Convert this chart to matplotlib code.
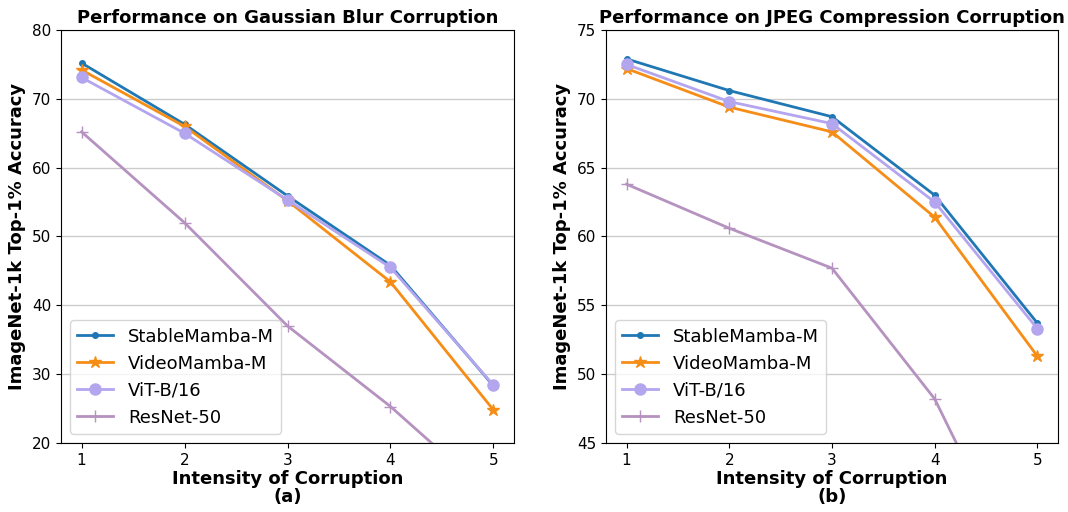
import numpy as np
import matplotlib
matplotlib.use("Agg")
import matplotlib.pyplot as plt

# ------------------ DATE ------------------
intensity = [1, 2, 3, 4, 5]
models = ["StableMamba-M", "VideoMamba-M", "ViT-B/16", "ResNet-50"]

blur_stable = [75.2, 66.3, 55.9, 45.8, 28.3]
blur_video = [74.2, 66.0, 55.2, 43.4, 24.8]
blur_vit = [73.1, 65.0, 55.3, 45.5, 28.4]
blur_resnet = [65.2, 52.0, 37.0, 25.3, 12.0]

jpeg_stable = [72.9, 70.6, 68.7, 63.0, 53.7]
jpeg_video = [72.2, 69.4, 67.6, 61.4, 51.3]
jpeg_vit = [72.5, 69.8, 68.2, 62.5, 53.3]
jpeg_resnet = [63.8, 60.6, 57.7, 48.2, 33.0]

# ------------------ STIL ------------------
colors = ["#1f77b4", "#f58d17", "#b4a5ef", "#b592c0"]
markers = [".", "*", "o", "+"]
msizes = [8, 9, 8, 8]

fig = plt.figure(figsize=(10.68, 5.12), dpi=100)
ax1 = fig.add_axes([0.0571, 0.1348, 0.4242, 0.8066])
ax2 = fig.add_axes([0.5674, 0.1348, 0.4232, 0.8066])


def draw(ax, series, title, ylim, yticks, sub):
    for vals, name, c, m, ms in zip(series, models, colors, markers, msizes):
        ax.plot(intensity, vals, color=c, marker=m, markersize=ms,
                linewidth=2, label=name)
    ax.set_ylim(*ylim)
    ax.set_yticks(yticks)
    ax.set_xticks(intensity)
    ax.tick_params(labelsize=11)
    ax.yaxis.grid(True, color="#cccccc", linewidth=1)
    ax.set_axisbelow(True)
    ax.set_title(title, fontsize=13, fontweight="bold", pad=5)
    ax.set_xlabel("Intensity of Corruption\n" + sub, fontsize=13,
                  fontweight="bold", labelpad=2, linespacing=0.95)
    ax.set_ylabel("ImageNet-1k Top-1% Accuracy", fontsize=13,
                  fontweight="bold")
    ax.legend(loc="lower left", fontsize=13, handlelength=2.0)


draw(ax1, [blur_stable, blur_video, blur_vit, blur_resnet],
     "Performance on Gaussian Blur Corruption", (20, 80),
     np.arange(20, 81, 10), "(a)")
draw(ax2, [jpeg_stable, jpeg_video, jpeg_vit, jpeg_resnet],
     "Performance on JPEG Compression Corruption", (45, 75),
     np.arange(45, 76, 5), "(b)")

fig.savefig("out.png", dpi=100)
